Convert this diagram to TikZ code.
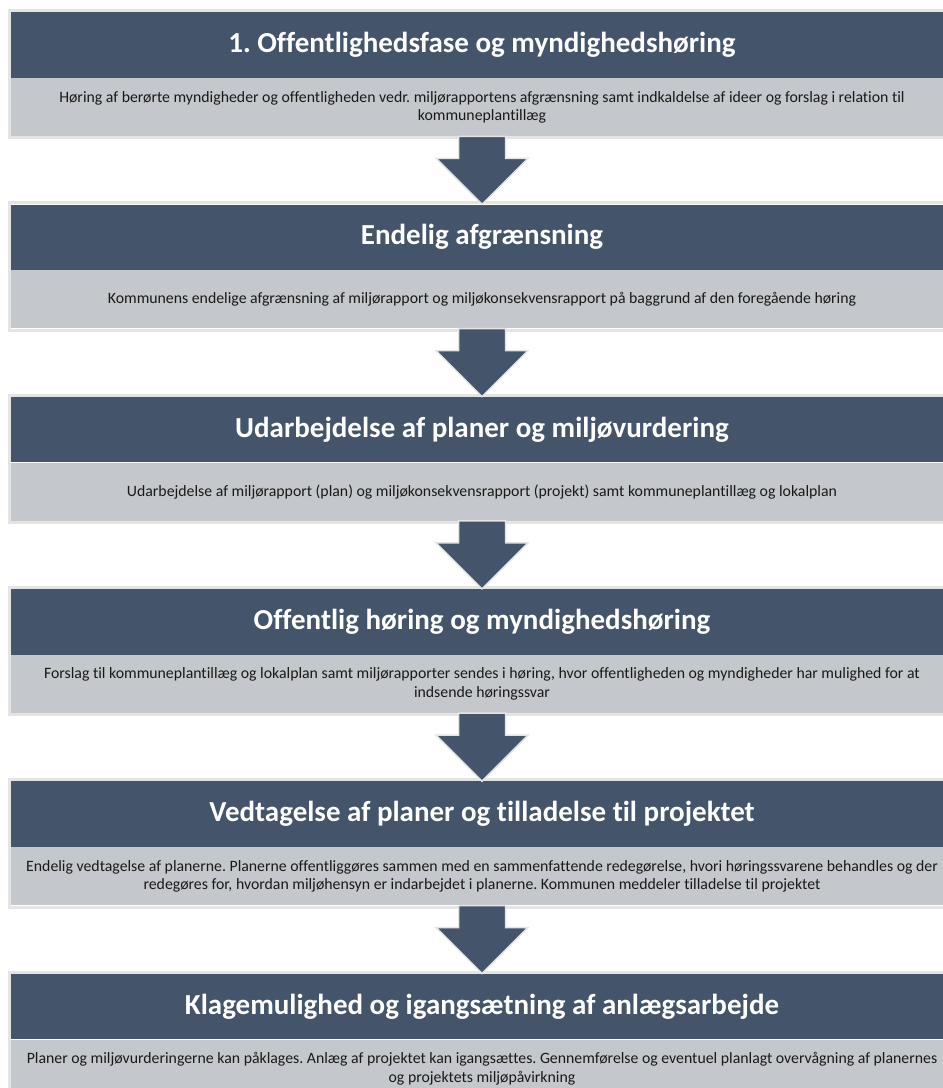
\documentclass[tikz,border=0pt]{standalone}
\usepackage{fontspec}
\setmainfont{Carlito}[Ligatures=NoCommon]
\usepackage{tikz}
\usetikzlibrary{positioning,calc}
\definecolor{hdrblue}{HTML}{44546A}
\definecolor{descgray}{HTML}{C4C7CB}
\definecolor{rimgray}{HTML}{E4E4E4}
\newcommand{\flowarrow}[2]{%
  \draw[flowbody] ($(#1.south)+(-23.5,0)$) -- ($(#1.south)+(23.5,0)$)
    -- ($(#1.south)+(23.5,-22)$) -- ($(#1.south)+(46,-22)$) -- (#2.north)
    -- ($(#1.south)+(-46,-22)$) -- ($(#1.south)+(-23.5,-22)$) -- cycle;}
\frenchspacing

\begin{document}
\begin{tikzpicture}[x=1pt, y=1pt,
    head/.style={fill=hdrblue, text=white, font=\bfseries\fontsize{29}{34}\selectfont,
      minimum width=942pt, minimum height=65.5pt, inner sep=0pt},
    desc/.style={fill=descgray, text=black!90, font=\fontsize{15.8}{18.3}\selectfont,
      align=center, minimum width=942pt, minimum height=58pt, inner sep=0pt},
    rim/.style={draw=rimgray, line width=3pt},
    flowbody/.style={fill=hdrblue, draw=rimgray, line width=1.5pt, line join=miter}]
  \useasboundingbox (0,0) rectangle (943,-1088);
  \clip (0,0) rectangle (943,-1088);
  % nodes
  \node[head, anchor=north] (h1) at (482,-12) {1. Offentlighedsfase og myndighedshøring};
  \node[desc, below = 0pt of h1] (d1) {Høring af berørte myndigheder og offentligheden vedr. miljørapportens afgrænsning samt indkaldelse af ideer og forslag i relation til\\kommuneplantillæg};
  \node[head, below = 68pt of d1] (h2) {Endelig afgrænsning};
  \node[desc, below = 0pt of h2] (d2) {Kommunens endelige afgrænsning af miljørapport og miljøkonsekvensrapport på baggrund af den foregående høring};
  \node[head, below = 68pt of d2] (h3) {Udarbejdelse af planer og miljøvurdering};
  \node[desc, below = 0pt of h3] (d3) {Udarbejdelse af miljørapport (plan) og miljøkonsekvensrapport (projekt) samt kommuneplantillæg og lokalplan};
  \node[head, below = 68pt of d3] (h4) {Offentlig høring og myndighedshøring};
  \node[desc, below = 0pt of h4] (d4) {Forslag til kommuneplantillæg og lokalplan samt miljørapporter sendes i høring, hvor offentligheden og myndigheder har mulighed for at\\indsende høringssvar};
  \node[head, below = 68pt of d4] (h5) {Vedtagelse af planer og tilladelse til projektet};
  \node[desc, below = 0pt of h5] (d5) {Endelig vedtagelse af planerne. Planerne offentliggøres sammen med en sammenfattende redegørelse, hvori høringssvarene behandles og der\\redegøres for, hvordan miljøhensyn er indarbejdet i planerne. Kommunen meddeler tilladelse til projektet};
  \node[head, below = 68pt of d5] (h6) {Klagemulighed og igangsætning af anlægsarbejde};
  \node[desc, below = 0pt of h6] (d6) {Planer og miljøvurderingerne kan påklages. Anlæg af projektet kan igangsættes. Gennemførelse og eventuel planlagt overvågning af planernes\\og projektets miljøpåvirkning};
  % frames
  \foreach \i in {1,...,6}
    \draw[rim] ([shift={(-1.5,1.5)}]h\i.north west) rectangle ([shift={(1.5,-1.5)}]d\i.south east);
  % arrows
  \flowarrow{d1}{h2}
  \flowarrow{d2}{h3}
  \flowarrow{d3}{h4}
  \flowarrow{d4}{h5}
  \flowarrow{d5}{h6}
\end{tikzpicture}
\end{document}
